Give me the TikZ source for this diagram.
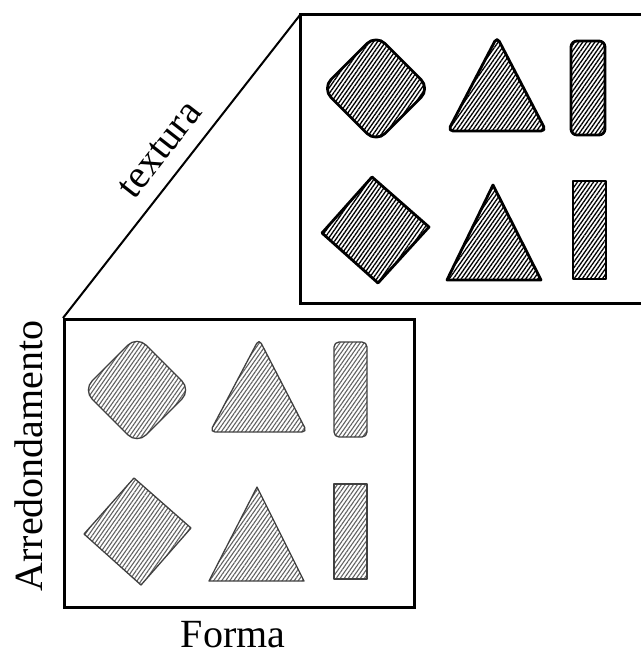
\documentclass[tikz,border=0pt]{standalone}
\usepackage{fontspec}
\setmainfont{Liberation Serif}
\usetikzlibrary{patterns.meta,calc}
\tikzset{
  frontshape/.style={draw=black!75, line width=1.3pt, line join=round,
    pattern={Lines[angle=55,distance=3.3pt,line width=1.1pt]}, pattern color=black!62},
  backshape/.style={draw=black, line width=2.8pt, line join=round,
    pattern={Lines[angle=55,distance=3.3pt,line width=1.3pt]}, pattern color=black},
  boxline/.style={draw=black, line width=3.2pt, line join=miter},
  lbl/.style={inner sep=0pt, font=\fontsize{40}{46}\selectfont}
}
\begin{document}
\begin{tikzpicture}[x=1pt,y=-1pt]
\useasboundingbox (0,0) rectangle (640,650);
% boxes
\node[boxline, minimum width=350pt, minimum height=288pt, inner sep=0pt, anchor=north west] (front) at (63,318) {};
\coordinate (bk) at (300,15);
\coordinate (bkTR) at (642,15);
\coordinate (bkBL) at (300,303);
\coordinate (bkBR) at (642,303);
\draw[boxline, line width=3pt] (bkTR) -- (bk) -- (bkBL) -- (bkBR);
\draw[line width=2pt] (front.north west) -- (bk);
% labels
\node[lbl, rotate=52, anchor=base] (tex) at (168.9,156.6) {textura};
\node[lbl, rotate=90, anchor=base] (arr) at (42,456) {Arredondamento};
\node[lbl, anchor=base] (forma) at (233,647) {Forma};
% ---- front shapes ----
\coordinate (fa1) at (137,336); \coordinate (fa2) at (191,390);
\coordinate (fa3) at (137,444); \coordinate (fa4) at (83,390);
\draw[frontshape, rounded corners=13pt] ($(fa1)!0.5!(fa2)$) -- (fa2) -- (fa3) -- (fa4) -- (fa1) -- cycle;
\coordinate (ft1) at (259,339); \coordinate (ft2) at (307,432); \coordinate (ft3) at (210,432);
\draw[frontshape, rounded corners=5pt] ($(ft1)!0.5!(ft2)$) -- (ft2) -- (ft3) -- (ft1) -- cycle;
\draw[frontshape, rounded corners=5pt] (334,342) rectangle (367,437);
\draw[frontshape] (134,478) -- (191,528) -- (141,585) -- (84,534) -- cycle;
\draw[frontshape] (257,487) -- (304,581) -- (209,581) -- cycle;
\draw[frontshape] (334,484) rectangle (367,579);
% ---- back shapes ----
\coordinate (ba1) at (376,34.5); \coordinate (ba2) at (430,88.5);
\coordinate (ba3) at (376,142.5); \coordinate (ba4) at (322,88.5);
\draw[backshape, rounded corners=13pt] ($(ba1)!0.5!(ba2)$) -- (ba2) -- (ba3) -- (ba4) -- (ba1) -- cycle;
\coordinate (bt1) at (497,37); \coordinate (bt2) at (546,131); \coordinate (bt3) at (448,131);
\draw[backshape, rounded corners=5pt] ($(bt1)!0.5!(bt2)$) -- (bt2) -- (bt3) -- (bt1) -- cycle;
\draw[backshape, rounded corners=6pt] (571,41) rectangle (605,135);
\draw[backshape] (372,177) -- (429,227) -- (378,283) -- (322,233) -- cycle;
\draw[backshape] (493,185) -- (541,280) -- (447,280) -- cycle;
\draw[backshape] (573,181) rectangle (606,279);
\end{tikzpicture}
\end{document}
